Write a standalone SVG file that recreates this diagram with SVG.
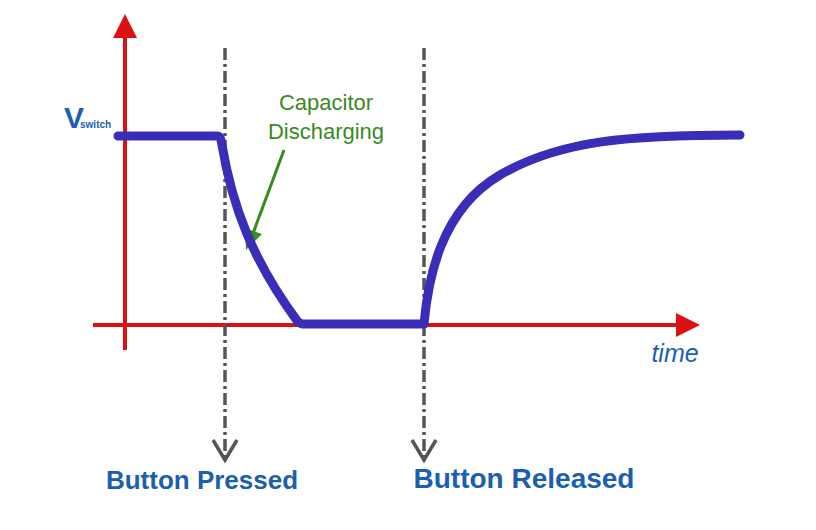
<svg xmlns="http://www.w3.org/2000/svg" width="816" height="530" viewBox="0 0 816 530">
<style>
.ax{stroke:#dd1111;stroke-width:4;fill:none}
.dd{stroke:#555;stroke-width:3.5;fill:none;stroke-dasharray:12,4,3,4}
.vh{stroke:#555;stroke-width:3.5;fill:none}
.lbl{font-family:"Liberation Sans",Arial,sans-serif;font-weight:bold;fill:#1c5fb0}
.grn{font-family:"Liberation Sans",Arial,sans-serif;fill:#3a8a1e;font-size:22px}
</style>
<rect width="816" height="530" fill="#fff"/>
<g id="axes">
<line class="ax" x1="125" y1="350" x2="125" y2="35"/>
<polygon points="125,14 113,38 137,38" fill="#dd1111"/>
<line class="ax" x1="93" y1="325" x2="678" y2="325"/>
<polygon points="700,325 676,313 676,337" fill="#dd1111"/>
</g>
<g id="connectors">
<line class="dd" x1="225" y1="48" x2="225" y2="460"/>
<polyline class="vh" points="213,440 225,460 237,440"/>
<line class="dd" x1="424" y1="48" x2="424" y2="460"/>
<polyline class="vh" points="412,440 424,460 436,440"/>
<line x1="284" y1="150" x2="252" y2="236" stroke="#3a8a1e" stroke-width="3"/>
<polygon points="246,250 245,228 262,234" fill="#3a8a1e"/>
</g>
<g id="curve">
<path d="M118,136 H217 Q221,136 222,145 C232,205 252,260 298,322 L302,324 H424 C428,280 440,210 500,175 C560,140 630,135 740,135" fill="none" stroke="#3a2db8" stroke-width="9" stroke-linecap="round" stroke-linejoin="round"/>
</g>
<g id="labels">
<text class="lbl" x="64" y="128" font-size="30" letter-spacing="-1">V<tspan font-size="10" dx="-3" letter-spacing="0">switch</tspan></text>
<text class="grn" x="326" y="110" text-anchor="middle">Capacitor</text>
<text class="grn" x="326" y="139" text-anchor="middle">Discharging</text>
<text x="675" y="362" text-anchor="middle" font-family="Liberation Sans,Arial,sans-serif" font-style="italic" font-size="25" fill="#1c5fb0">time</text>
<text class="lbl" x="202" y="489" text-anchor="middle" font-size="26">Button Pressed</text>
<text class="lbl" x="524" y="488" text-anchor="middle" font-size="28">Button Released</text>
</g>
</svg>
